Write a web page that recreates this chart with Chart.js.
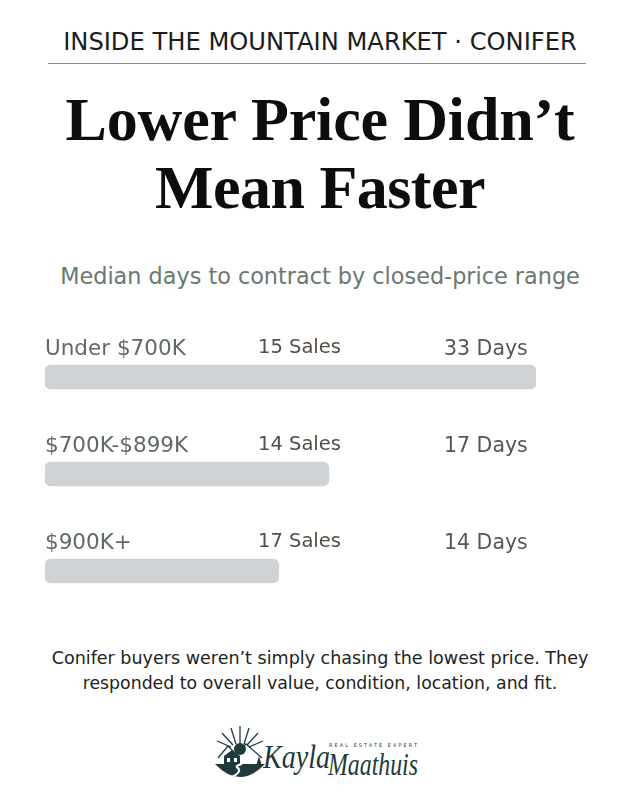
<!DOCTYPE html>
<html>
<head>
<meta charset="utf-8">
<script src="https://cdn.jsdelivr.net/npm/chart.js@4.4.1/dist/chart.umd.min.js"></script>
<style>
  html,body{margin:0;padding:0;background:#fff;}
  body{width:640px;height:800px;position:relative;overflow:hidden;font-family:"DejaVu Sans",sans-serif;}
  .abs{position:absolute;left:0;width:640px;text-align:center;white-space:nowrap;}
  .fit{display:inline-block;}
  .sz{position:absolute;left:0;width:640px;text-align:center;white-space:nowrap;line-height:1;}
  #kicker{top:30px;font-size:21px;color:#1c1c1c;font-weight:400;}
  #rule{position:absolute;left:48px;top:63px;width:538px;height:1px;background:#8a8a8a;}
  #t1{top:81px;font-family:"Liberation Serif",serif;font-weight:700;font-size:62px;color:#0d0d0d;line-height:76px;}
  #t2{top:149px;font-family:"Liberation Serif",serif;font-weight:700;font-size:62px;color:#0d0d0d;line-height:76px;}
  #sub{top:265px;font-size:20px;color:#6b776f;}
  #f1{top:650px;font-size:16px;color:#222;}
  #f2{top:675px;font-size:16px;color:#222;}
  #chartWrap{position:absolute;left:0;top:300px;width:640px;height:340px;}
  #logo{position:absolute;left:212px;top:722px;width:220px;height:66px;}
</style>
</head>
<body>
<div class="sz" id="kicker"><span class="fs" data-w="514">INSIDE THE MOUNTAIN MARKET · CONIFER</span></div>
<div id="rule"></div>
<div class="abs" id="t1"><span class="fit" data-w="509">Lower Price Didn’t</span></div>
<div class="abs" id="t2"><span class="fit" data-w="330">Mean Faster</span></div>
<div class="sz" id="sub"><span class="fs" data-w="520">Median days to contract by closed-price range</span></div>
<div id="chartWrap"><canvas id="c" width="640" height="340"></canvas></div>
<div class="sz" id="f1"><span class="fs" data-w="537">Conifer buyers weren’t simply chasing the lowest price. They</span></div>
<div class="sz" id="f2"><span class="fs" data-w="475">responded to overall value, condition, location, and fit.</span></div>

<svg id="logo" viewBox="0 0 220 66" xmlns="http://www.w3.org/2000/svg">
  <g stroke="#1f3a3a" stroke-width="1.3" fill="none">
    <line x1="28" y1="22" x2="28" y2="4"/>
    <line x1="24" y1="22" x2="19" y2="6"/>
    <line x1="32" y1="22" x2="37" y2="6"/>
    <line x1="21" y1="23" x2="10" y2="11"/>
    <line x1="35" y1="23" x2="46" y2="11"/>
    <line x1="19" y1="25" x2="5" y2="19"/>
    <line x1="37" y1="25" x2="51" y2="19"/>
    <polyline points="6,36 16,24 24,32 34,22 50,36"/>
  </g>
  <circle cx="28" cy="27" r="6" fill="#1f3a3a"/>
  <path d="M3,42 Q28,68 53,42 Z" fill="#1f3a3a"/>
  <path d="M12,44 L12,34 L20,28 L28,34 L28,44 Z" fill="#1f3a3a"/>
  <path d="M20,55 Q30,50 26,46 Q22,44 30,42" stroke="#fff" stroke-width="2" fill="none"/>
  <rect x="15" y="36" width="3" height="4" fill="#fff"/>
  <rect x="22" y="36" width="3" height="4" fill="#fff"/>
  <path d="M44,44 L47,34 L50,44 Z" fill="#1f3a3a"/>
  <text x="51" y="46" font-family="Liberation Serif, serif" font-style="italic" font-size="34" textLength="67" lengthAdjust="spacingAndGlyphs" fill="#1f3a3a">Kayla</text>
  <text x="116" y="53" font-family="Liberation Serif, serif" font-style="italic" font-size="32" textLength="90" lengthAdjust="spacingAndGlyphs" fill="#1f3a3a">Maathuis</text>
  <text x="117" y="25" font-family="DejaVu Sans, sans-serif" font-size="5" textLength="88" lengthAdjust="spacing" fill="#1f3a3a">REAL ESTATE EXPERT</text>
</svg>

<script>
// ---- data ----
const categories = ["Under $700K", "$700K-$899K", "$900K+"];
const medianDays = [33, 17, 14];
const salesCount = [15, 14, 17];
const daysLabels = medianDays.map(d => d + " Days");
const salesLabels = salesCount.map(s => s + " Sales");
const axisMaxDays = 29.4;   // visual cap of the bar track
const barValues = medianDays.map(d => Math.min(d, axisMaxDays));

// fit text widths by letter spacing (serif title)
document.querySelectorAll('.fit').forEach(el => {
  const target = +el.dataset.w;
  const w = el.getBoundingClientRect().width;
  el.style.letterSpacing = ((target - w) / el.textContent.length) + 'px';
});
// fit text widths by font size (sans lines)
document.querySelectorAll('.fs').forEach(el => {
  const target = +el.dataset.w;
  const base = parseFloat(getComputedStyle(el).fontSize);
  const w = el.getBoundingClientRect().width;
  el.style.fontSize = (base * target / w) + 'px';
});

const rowLabels = {
  id: 'rowLabels',
  afterDatasetsDraw(chart) {
    const ctx = chart.ctx;
    const meta = chart.getDatasetMeta(0);
    ctx.save();
    ctx.textBaseline = 'alphabetic';
    ctx.textAlign = 'left';
    meta.data.forEach((bar, i) => {
      const top = bar.y - bar.height / 2;
      const by = top - 10;
      ctx.font = '400 21.5px "DejaVu Sans", sans-serif';
      ctx.fillStyle = '#5f6a62';
      ctx.fillText(categories[i], 45, by);
      ctx.font = '400 19.5px "DejaVu Sans", sans-serif';
      ctx.fillStyle = '#564d45';
      ctx.fillText(salesLabels[i], 258, by - 2);
      ctx.font = '400 20.5px "DejaVu Sans", sans-serif';
      ctx.fillStyle = '#57564f';
      ctx.fillText(daysLabels[i], 444, by);
    });
    ctx.restore();
  }
};

new Chart(document.getElementById('c'), {
  type: 'bar',
  data: {
    labels: categories,
    datasets: [{
      data: barValues,
      backgroundColor: '#cfd3d6',
      borderRadius: 6,
      borderSkipped: false,
      barThickness: 24
    }]
  },
  options: {
    indexAxis: 'y',
    responsive: false,
    animation: false,
    events: [],
    layout: { padding: { left: 45, right: 104, top: 28.5, bottom: 20.5 } },
    scales: {
      x: { display: false, min: 0, max: axisMaxDays },
      y: { display: false }
    },
    plugins: { legend: { display: false }, tooltip: { enabled: false } }
  },
  plugins: [rowLabels]
});
</script>
</body>
</html>
